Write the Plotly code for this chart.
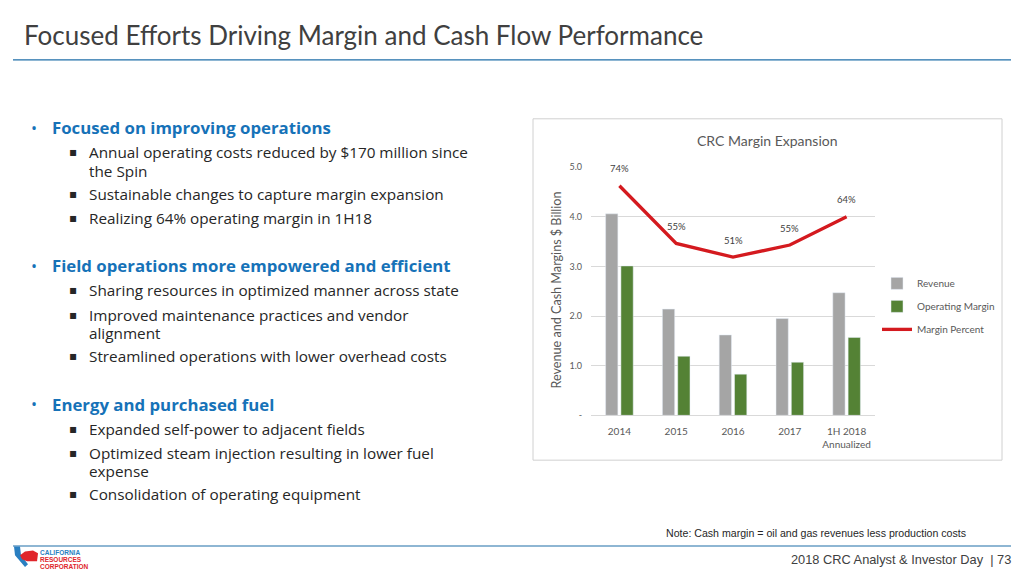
import plotly.graph_objects as go

# chart data
years = ['2014', '2015', '2016', '2017', '1H 2018<br>Annualized']
revenue = [4.06, 2.14, 1.62, 1.95, 2.47]
operating_margin = [3.01, 1.19, 0.83, 1.07, 1.57]
margin_pct = [0.74, 0.554, 0.51, 0.549, 0.64]
margin_labels = ['74%', '55%', '51%', '55%', '64%']
y_ticks = [0, 1, 2, 3, 4, 5]
y_ticktext = ['-', '1.0', '2.0', '3.0', '4.0', '5.0']

# slide text
title = 'Focused Efforts Driving Margin and Cash Flow Performance'
bullets = [
    (1, 'Focused on improving operations'),
    (2, 'Annual operating costs reduced by $170 million since'),
    (3, 'the Spin'),
    (2, 'Sustainable changes to capture margin expansion'),
    (2, 'Realizing 64% operating margin in 1H18'),
    (1, 'Field operations more empowered and efficient'),
    (2, 'Sharing resources in optimized manner across state'),
    (2, 'Improved maintenance practices and vendor'),
    (3, 'alignment'),
    (2, 'Streamlined operations with lower overhead costs'),
    (1, 'Energy and purchased fuel'),
    (2, 'Expanded self-power to adjacent fields'),
    (2, 'Optimized steam injection resulting in lower fuel'),
    (3, 'expense'),
    (2, 'Consolidation of operating equipment'),
]
bullet_y = [124, 149, 168, 192, 216, 265, 290, 315, 333, 357, 406, 431, 456, 474, 498]
note = 'Note: Cash margin = oil and gas revenues less production costs'
footer = '2018 CRC Analyst &amp; Investor Day  | 73'

W, H = 1024, 576


def px(x):
    return x / W


def py(y):
    return 1 - y / H


BLUE = '#1672b8'
TXT = '#262626'


def label(x, y, text, size, color, family='Open Sans', anchor='left', **kw):
    return dict(x=px(x), y=py(y), xref='paper', yref='paper', text=text, showarrow=False,
                xanchor=anchor, yanchor='middle',
                font=dict(family=family, size=size, color=color), **kw)


fig = go.Figure()
fig.add_trace(go.Bar(x=years, y=revenue, name='Revenue', marker_color='#a5a5a5',
                     legendgroup='a'))
fig.add_trace(go.Bar(x=years, y=operating_margin, name='Operating Margin',
                     marker_color='#548235', legendgroup='b'))
fig.add_trace(go.Scatter(x=years, y=margin_pct, name='Margin Percent', mode='lines',
                         line=dict(color='#d41a1f', width=3.3), yaxis='y2',
                         legendgroup='c'))

anns = []
# category axis: annotation x given as category index
for i, (v, t) in enumerate(zip(margin_pct, margin_labels)):
    anns.append(dict(x=i, y=v, xref='x', yref='y2', text=t, showarrow=False,
                     xanchor='center', yanchor='middle', yshift=17,
                     font=dict(family='Lato', size=9.5, color='#404040')))

# chart title and y-axis title
anns.append(label(767, 137, 'CRC Margin Expansion', 14, '#595959', 'Lato', 'center'))
anns.append(label(556, 290, 'Revenue and Cash Margins $ Billion', 12.6, '#595959', 'Lato',
                  'center', textangle=-90))

# slide title
anns.append(label(22, 30, title, 26, '#404040', 'Lato'))

# bullets
for (lvl, t), y in zip(bullets, bullet_y):
    if lvl == 1:
        anns.append(label(29, y, '•', 16, BLUE))
        anns.append(label(50, y, '<b>' + t + '</b>', 16.8, BLUE))
    else:
        if lvl == 2:
            anns.append(label(67, y, '▪', 12, TXT, 'DejaVu Sans'))
        anns.append(label(87, y, t, 15.3, TXT))

anns.append(label(664, 537, note, 10.6, TXT, 'Liberation Sans'))
anns.append(label(1013, 564, footer, 12.8, '#404040', 'Liberation Sans', 'right'))

# logo text
for t, y, c in [('CALIFORNIA', 557, '#2a7fc1'), ('RESOURCES', 564, '#e0262b'),
                ('CORPORATION', 571, '#e0262b')]:
    anns.append(label(38, y, '<b>' + t + '</b>', 6.5, c,
                      'Liberation Sans Narrow, Liberation Sans'))

shapes = [
    # title rule and footer rule
    dict(type='line', xref='paper', yref='paper', x0=px(13), x1=px(1011), y0=py(55), y1=py(55),
         line=dict(color='#1f6ea8', width=1.2)),
    dict(type='line', xref='paper', yref='paper', x0=px(13), x1=px(1011), y0=py(550.5),
         y1=py(550.5), line=dict(color='#1f6ea8', width=1.2)),
    # chart frame
    dict(type='rect', xref='paper', yref='paper', x0=px(533), x1=px(1002), y0=py(463),
         y1=py(115), line=dict(color='#d0d0d0', width=1)),
    # logo glyphs
    dict(type='path', xref='paper', yref='paper', fillcolor='#2a7fc1', line=dict(width=0),
         path='M {} {} L {} {} L {} {} L {} {} L {} {} L {} {} Z'.format(
             px(14), py(551), px(20), py(551), px(21), py(560), px(28), py(569),
             px(25), py(572), px(15), py(560))),
    dict(type='path', xref='paper', yref='paper', fillcolor='#e0262b', line=dict(width=0),
         path='M {} {} L {} {} L {} {} L {} {} L {} {} L {} {} L {} {} Z'.format(
             px(20), py(560), px(25), py(556), px(33), py(555), px(38), py(558),
             px(37), py(566), px(27), py(566), px(22), py(564))),
]

fig.update_layout(
    width=W, height=H,
    margin=dict(l=0, r=0, t=0, b=0),
    paper_bgcolor='white', plot_bgcolor='white',
    barmode='group', bargap=0.46, bargroupgap=0.2,
    showlegend=True,
    legend=dict(x=px(877), y=py(268), xanchor='left', yanchor='top',
                traceorder='grouped', tracegroupgap=4,
                font=dict(family='Lato', size=10, color='#595959'),
                bgcolor='rgba(0,0,0,0)'),
    xaxis=dict(domain=[px(591), px(875)], type='category', showgrid=False, showline=False,
               tickfont=dict(family='Lato', size=10, color='#595959'),
               ticklabelstandoff=9),
    yaxis=dict(domain=[py(417.3), py(164.3)], range=[0, 5], tickvals=y_ticks,
               ticktext=y_ticktext, showgrid=True, gridcolor='#d9d9d9', gridwidth=1,
               zeroline=True, zerolinecolor='#d9d9d9', zerolinewidth=1,
               tickfont=dict(family='Lato', size=9, color='#595959'),
               ticklabelstandoff=8),
    yaxis2=dict(overlaying='y', range=[0, 0.8], visible=False),
    annotations=anns,
    shapes=shapes,
)

fig.write_html('out.html', config={'displayModeBar': False},
               post_script="document.body.style.margin='0';")
